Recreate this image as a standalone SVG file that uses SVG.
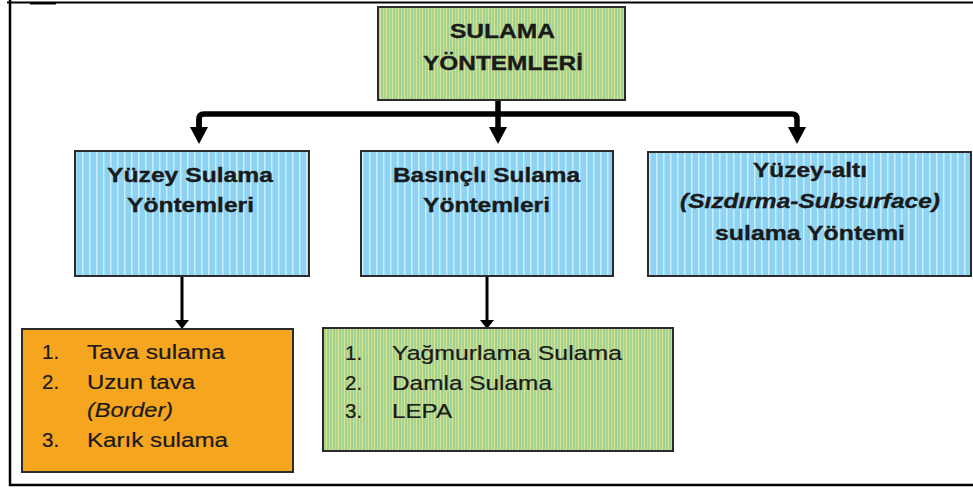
<svg xmlns="http://www.w3.org/2000/svg" width="973" height="488" viewBox="0 0 973 488">
<style>
.box{stroke:#2b2b2b;stroke-width:2}
.blue{fill:url(#pBlue)}
.green{fill:url(#pGreen)}
.orange{fill:#F6A51F}
.t{font-family:"Liberation Sans",Arial,sans-serif;fill:#1a1a1a}
.b{font-weight:bold;font-size:21px;stroke:#1a1a1a;stroke-width:0.35}
.r{font-size:20.5px;stroke:#1a1a1a;stroke-width:0.2}
.i{font-style:italic}
.thick{stroke:#000;stroke-width:5.5;fill:none}
.thin{stroke:#000;stroke-width:3;fill:none}
</style>
<defs>
<pattern id="pBlue" width="7" height="10" patternUnits="userSpaceOnUse">
<rect width="7" height="10" fill="#8CD3F4"/>
<rect x="5" width="1.5" height="10" fill="#CDEEFC"/>
</pattern>
<pattern id="pGreen" width="6" height="10" patternUnits="userSpaceOnUse">
<rect width="6" height="10" fill="#A9D48E"/>
<rect x="2" width="1" height="10" fill="#DCE68C"/>
<rect x="3" width="2" height="10" fill="#9DCF9C"/>
<rect x="5" width="1" height="10" fill="#C9E08C"/>
</pattern>
<marker id="bigArrow" viewBox="0 -9 17 18" markerWidth="17" markerHeight="18" refX="0" refY="0" markerUnits="userSpaceOnUse" orient="auto">
<path d="M0,-9 L17,0 L0,9 z" fill="#000"/>
</marker>
<marker id="smallArrow" viewBox="0 -7 9 14" markerWidth="9" markerHeight="14" refX="0" refY="0" markerUnits="userSpaceOnUse" orient="auto">
<path d="M0,-7 L9,0 L0,7 z" fill="#000"/>
</marker>
</defs>
<rect width="973" height="488" fill="#fff"/>
<g id="frame" stroke="#000" fill="none">
<line x1="10" y1="0" x2="10" y2="486" stroke-width="2.5"/>
<line x1="7" y1="2.5" x2="973" y2="2.5" stroke-width="2"/>
<line x1="30" y1="3.5" x2="56" y2="3.5" stroke-width="2"/>
<line x1="9" y1="485" x2="973" y2="485" stroke-width="2.5"/>
</g>
<g id="connectors">
<line class="thick" x1="498" y1="100" x2="498" y2="114" stroke-width="7"/>
<path class="thick" d="M199,127 L199,119 Q199,114 204,114 L792,114 Q797,114 797,119 L797,127" marker-end="url(#bigArrow)"/>
<path class="thick" d="M199,119 L199,127" marker-end="url(#bigArrow)"/>
<line class="thick" x1="498" y1="114" x2="498" y2="127" marker-end="url(#bigArrow)"/>
<line class="thin" x1="182" y1="276" x2="182" y2="320" marker-end="url(#smallArrow)"/>
<line class="thin" x1="487" y1="276" x2="487" y2="320" marker-end="url(#smallArrow)"/>
</g>
<g id="root">
<rect class="box green" x="378" y="7" width="247" height="93"/>
<text class="t b" x="450" y="38" textLength="105" lengthAdjust="spacingAndGlyphs">SULAMA</text>
<text class="t b" x="423" y="70" textLength="160" lengthAdjust="spacingAndGlyphs">YÖNTEMLERİ</text>
</g>
<g id="yuzey">
<rect class="box blue" x="75" y="151" width="234" height="125"/>
<text class="t b" x="107" y="182" textLength="166" lengthAdjust="spacingAndGlyphs">Yüzey Sulama</text>
<text class="t b" x="127" y="212" textLength="127" lengthAdjust="spacingAndGlyphs">Yöntemleri</text>
</g>
<g id="basincli">
<rect class="box blue" x="361" y="151" width="252" height="125"/>
<text class="t b" x="393" y="182" textLength="187" lengthAdjust="spacingAndGlyphs">Basınçlı Sulama</text>
<text class="t b" x="423" y="212" textLength="127" lengthAdjust="spacingAndGlyphs">Yöntemleri</text>
</g>
<g id="yuzeyalti">
<rect class="box blue" x="648" y="152" width="323" height="124"/>
<text class="t b" x="753" y="177" textLength="114" lengthAdjust="spacingAndGlyphs">Yüzey-altı</text>
<text class="t b i" x="680" y="208" textLength="260" lengthAdjust="spacingAndGlyphs">(Sızdırma-Subsurface)</text>
<text class="t b" x="715" y="240" textLength="190" lengthAdjust="spacingAndGlyphs">sulama Yöntemi</text>
</g>
<g id="yuzeyList">
<rect class="box orange" x="22" y="329" width="271" height="143"/>
<text class="t r" x="42" y="359">1.</text>
<text class="t r" x="87" y="359" textLength="138" lengthAdjust="spacingAndGlyphs">Tava sulama</text>
<text class="t r" x="42" y="389">2.</text>
<text class="t r" x="87" y="389" textLength="108" lengthAdjust="spacingAndGlyphs">Uzun tava</text>
<text class="t r i" x="87" y="417" textLength="86" lengthAdjust="spacingAndGlyphs">(Border)</text>
<text class="t r" x="42" y="447">3.</text>
<text class="t r" x="87" y="447" textLength="141" lengthAdjust="spacingAndGlyphs">Karık sulama</text>
</g>
<g id="basincliList">
<rect class="box green" x="323" y="328" width="350" height="123"/>
<text class="t r" x="345" y="360">1.</text>
<text class="t r" x="392" y="360" textLength="230" lengthAdjust="spacingAndGlyphs">Yağmurlama Sulama</text>
<text class="t r" x="345" y="390">2.</text>
<text class="t r" x="392" y="390" textLength="160" lengthAdjust="spacingAndGlyphs">Damla Sulama</text>
<text class="t r" x="345" y="418">3.</text>
<text class="t r" x="392" y="418" textLength="60" lengthAdjust="spacingAndGlyphs">LEPA</text>
</g>
</svg>
